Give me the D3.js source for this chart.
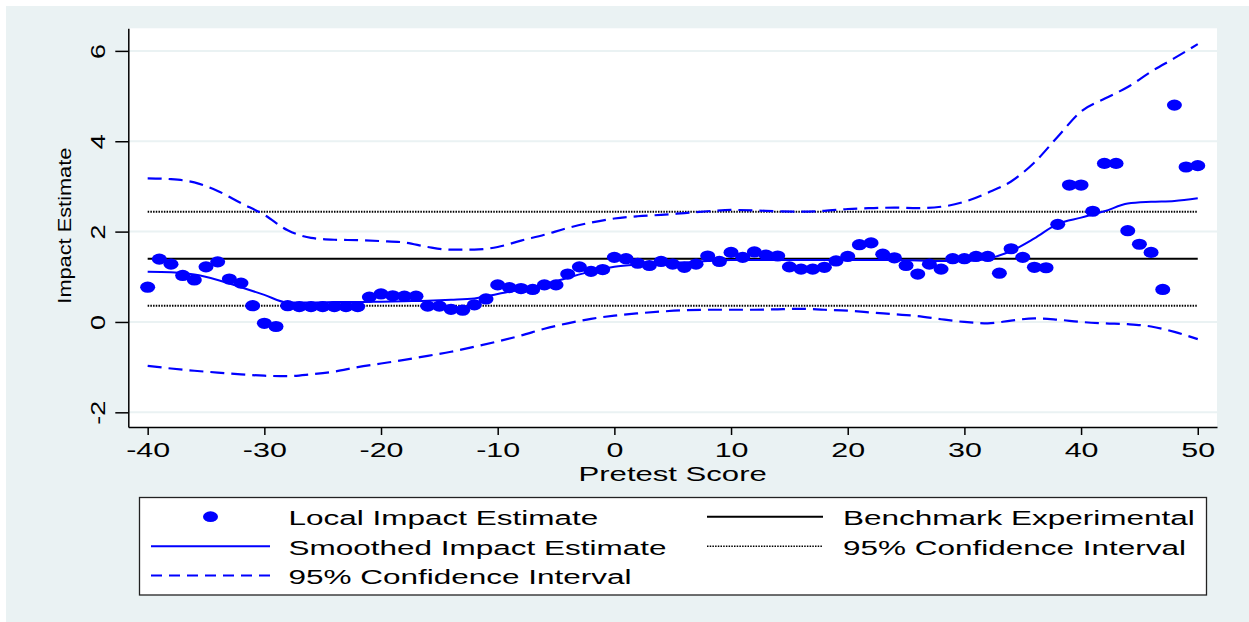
<!DOCTYPE html>
<html lang="en">
<head>
<meta charset="UTF-8">
<title>Local Impact Estimates by Pretest Score</title>
<script src="https://d3js.org/d3.v7.min.js"></script>
<style>
    body{ margin:0; background:#fff; }
    svg{ display:block; font-family:"Liberation Sans", Arial, sans-serif; }
</style>
</head>
<body>
<svg id="chart" width="1249" height="622"></svg>
<script>
    // local (per score) impact estimates
    const pretestScores = [-40,-39,-38,-37,-36,-35,-34,-33,-32,-31,-30,-29,-28,-27,-26,-25,-24,-23,-22,-21,
        -20,-19,-18,-17,-16,-15,-14,-13,-12,-11,-10,-9,-8,-7,-6,-5,-4,-3,-2,-1,
        0,1,2,3,4,5,6,7,8,9,10,11,12,13,14,15,16,17,18,19,
        20,21,22,23,24,25,26,27,28,29,30,31,32,33,34,35,36,37,38,39,
        40,41,42,43,44,45,46,47,48,49,50];
    const localImpact = [0.77,1.39,1.28,1.03,0.93,1.22,1.33,0.95,0.86,0.36,-0.03,-0.10,0.36,0.34,0.34,0.34,0.34,0.34,0.34,0.55,
        0.62,0.58,0.57,0.57,0.35,0.35,0.28,0.26,0.38,0.51,0.82,0.76,0.74,0.72,0.82,0.82,1.06,1.22,1.12,1.16,
        1.43,1.40,1.30,1.25,1.34,1.28,1.21,1.28,1.46,1.34,1.54,1.43,1.55,1.48,1.46,1.22,1.17,1.17,1.21,1.35,
        1.45,1.71,1.75,1.50,1.42,1.25,1.06,1.28,1.17,1.40,1.40,1.45,1.45,1.08,1.62,1.43,1.21,1.20,2.16,3.03,
        3.03,2.45,3.51,3.51,2.02,1.72,1.54,0.72,4.80,3.43,3.46];

    // smoothed estimate and its band, read every 2 points
    const smoothScores = [-40,-38,-36,-34,-32,-30,-28,-26,-24,-22,-20,-18,-16,-14,-12,-10,-8,-6,-4,-2,
        0,2,4,6,8,10,12,14,16,18,20,22,24,26,28,30,32,34,36,38,40,42,44,46,48,50];
    const smoothedImpact = [1.11,1.10,1.05,0.93,0.77,0.60,0.43,0.43,0.44,0.44,0.45,0.46,0.47,0.49,0.52,0.62,0.72,0.83,0.98,1.12,
        1.22,1.27,1.30,1.32,1.35,1.37,1.37,1.37,1.37,1.37,1.37,1.37,1.37,1.36,1.35,1.35,1.40,1.57,1.85,2.17,2.31,2.45,2.62,2.66,2.68,2.74];
    const upperCI = [3.18,3.16,3.09,2.90,2.63,2.37,2.03,1.86,1.82,1.81,1.79,1.76,1.66,1.60,1.60,1.66,1.80,1.93,2.08,2.20,
        2.29,2.34,2.37,2.41,2.45,2.48,2.47,2.45,2.44,2.46,2.50,2.52,2.53,2.52,2.55,2.66,2.86,3.11,3.53,4.10,4.66,4.94,5.20,5.54,5.84,6.15];
    const lowerCI = [-0.97,-1.03,-1.08,-1.12,-1.16,-1.19,-1.20,-1.16,-1.10,-1.00,-0.92,-0.84,-0.75,-0.66,-0.55,-0.43,-0.30,-0.15,-0.03,0.07,
        0.14,0.19,0.23,0.26,0.27,0.27,0.27,0.28,0.29,0.27,0.25,0.21,0.17,0.13,0.06,0.00,-0.03,0.03,0.08,0.05,0.00,-0.03,-0.05,-0.10,-0.22,-0.38];

    // experimental benchmark and its interval
    const benchmarkImpact = 1.40;
    const benchmarkCI = [0.36, 2.44];

    const xTicks = [-40,-30,-20,-10,0,10,20,30,40,50];
    const yTicks = [-2,0,2,4,6];
    const legendLabels = ["Local Impact Estimate","Smoothed Impact Estimate","95% Confidence Interval",
        "Benchmark Experimental","95% Confidence Interval"];

    const blue = "#0000ff";
    const svg = d3.select("#chart");
    const plot = {left:128.3, right:1217, top:28.3, bottom:427};

    // graph region and plot region
    svg.append("rect").attr("x",6).attr("y",6).attr("width",1243).attr("height",616).attr("fill","#eaf2f3");
    svg.append("rect").attr("x",plot.left).attr("y",plot.top)
        .attr("width",plot.right-plot.left).attr("height",plot.bottom-plot.top).attr("fill","#fff");

    const x = d3.scaleLinear().domain([-41.66, 51.65]).range([plot.left, plot.right]);
    const y = d3.scaleLinear().domain([-2.325, 6.5]).range([plot.bottom, plot.top]);

    // grid
    svg.append("g").selectAll("line").data(yTicks).join("line")
        .attr("x1",plot.left).attr("x2",plot.right)
        .attr("y1",d=>y(d)).attr("y2",d=>y(d))
        .attr("stroke","#eaf2f3").attr("stroke-width",2);

    // axes
    const yAxis = svg.append("g").attr("transform",`translate(${plot.left},0)`)
        .call(d3.axisLeft(y).tickValues(yTicks).tickSize(13).tickSizeOuter(0).tickFormat(d=>String(d)));
    const xAxis = svg.append("g").attr("transform",`translate(0,${plot.bottom})`)
        .call(d3.axisBottom(x).tickValues(xTicks).tickSize(8).tickSizeOuter(0).tickFormat(d=>String(d)));

    [yAxis, xAxis].forEach(a=>{
        a.attr("font-family",null).attr("font-size",21);
        a.selectAll("path, line").attr("stroke","#000").attr("stroke-width",1.5);
        a.selectAll("text").attr("fill","#000");
    });
    yAxis.selectAll("text")
        .attr("x",null).attr("dy",null).attr("text-anchor","middle")
        .attr("font-size",20)
        .attr("transform","translate(-23.3,0) rotate(-90) scale(1.35,1)");
    xAxis.selectAll("text")
        .attr("y",null).attr("dy",null)
        .attr("transform","translate(0,30) scale(1.45,1)");

    // axis titles
    svg.append("text")
        .attr("transform",`translate(${(plot.left+plot.right)/2},481) scale(1.48,1)`)
        .attr("text-anchor","middle").attr("font-size",21).text("Pretest Score");
    svg.append("text")
        .attr("transform",`translate(71,${(plot.top+plot.bottom)/2 - 2}) rotate(-90)`)
        .attr("text-anchor","middle").attr("font-size",19)
        .attr("textLength",156).attr("lengthAdjust","spacingAndGlyphs")
        .text("Impact Estimate");

    // benchmark lines
    const x0 = x(pretestScores[0]), x1 = x(pretestScores[pretestScores.length-1]);
    svg.append("line").attr("x1",x0).attr("x2",x1)
        .attr("y1",y(benchmarkImpact)).attr("y2",y(benchmarkImpact))
        .attr("stroke","#000").attr("stroke-width",2);
    svg.append("g").selectAll("line").data(benchmarkCI).join("line")
        .attr("x1",x0).attr("x2",x1)
        .attr("y1",d=>y(d)).attr("y2",d=>y(d))
        .attr("stroke","#000").attr("stroke-width",2).attr("stroke-dasharray","1.5,1.2");

    // smoothed estimate and band
    const line = d3.line().x(d=>x(d[0])).y(d=>y(d[1])).curve(d3.curveMonotoneX);
    const pairs = vals => smoothScores.map((s,i)=>[s, vals[i]]);
    [upperCI, lowerCI].forEach(v=>{
        svg.append("path").attr("d",line(pairs(v)))
            .attr("fill","none").attr("stroke",blue).attr("stroke-width",2.2)
            .attr("stroke-dasharray","14,7");
    });
    svg.append("path").attr("d",line(pairs(smoothedImpact)))
        .attr("fill","none").attr("stroke",blue).attr("stroke-width",2);

    // local estimates
    svg.append("g").selectAll("ellipse").data(pretestScores).join("ellipse")
        .attr("cx",d=>x(d)).attr("cy",(d,i)=>y(localImpact[i]))
        .attr("rx",7.5).attr("ry",5.6).attr("fill",blue);

    // legend
    const legend = svg.append("g");
    legend.append("rect").attr("x",139.5).attr("y",497.5).attr("width",1067).attr("height",97.5)
        .attr("fill","#fff").attr("stroke","#222").attr("stroke-width",1.3);
    const rowY = [516.7, 546.3, 575.6];
    const cols = [{s0:151, s1:270, tx:288.5}, {s0:707, s1:823, tx:843}];
    legendLabels.forEach((lab,i)=>{
        const c = cols[i<3?0:1], r = i<3?i:i-3, cy = rowY[r];
        if(i===0){
            legend.append("ellipse").attr("cx",(c.s0+c.s1)/2).attr("cy",cy)
                .attr("rx",7.5).attr("ry",5.4).attr("fill",blue);
        } else {
            const ln = legend.append("line").attr("x1",c.s0).attr("x2",c.s1).attr("y1",cy).attr("y2",cy)
                .attr("stroke", i<3?blue:"#000").attr("stroke-width",2);
            if(i===2) ln.attr("stroke-dasharray","11,7");
            if(i===4) ln.attr("stroke-dasharray","1.5,1.2").attr("stroke-width",1.6);
        }
        legend.append("text")
            .attr("transform",`translate(${c.tx},${cy+8.3}) scale(1.5,1)`)
            .attr("font-size",21).text(lab);
    });
</script>
</body>
</html>
